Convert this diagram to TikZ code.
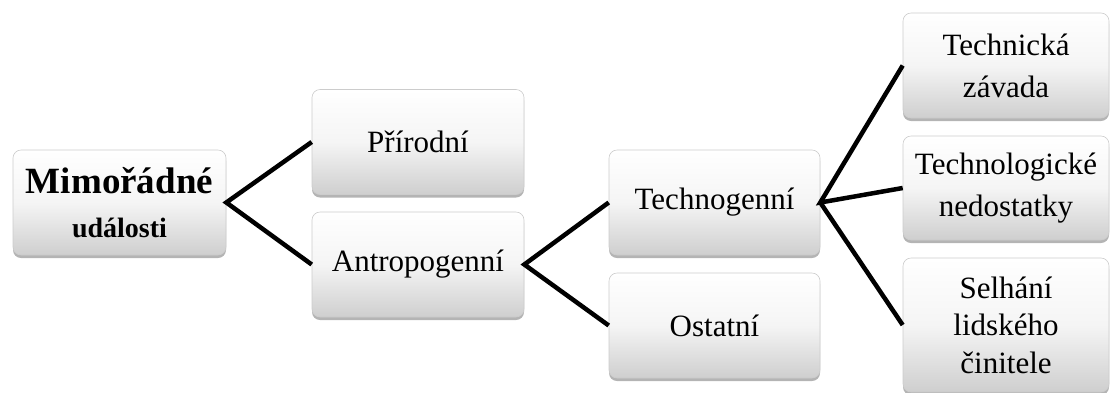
\documentclass[tikz,border=0pt]{standalone}
\usepackage{fontspec}
\setmainfont{Liberation Serif}
\usetikzlibrary{shadows}
\tikzset{
  box/.style={rectangle, rounded corners=8pt, draw=gray!40, line width=0.6pt,
    top color=white, bottom color=gray!38, middle color=gray!8,
    drop shadow={shadow xshift=0pt, shadow yshift=-3pt, opacity=0.45, fill=gray!70!black},
    minimum width=212pt, minimum height=105pt, align=center, inner sep=0pt,
    font=\fontsize{31}{42}\selectfont},
  conn/.style={line width=4.5pt, black}
}
\begin{document}
\begin{tikzpicture}[x=1pt,y=-1pt]
\useasboundingbox (0,0) rectangle (1111,392);
\node[box, minimum width=213pt] (root) at (119.5,202.5)
  {{\fontsize{37}{48}\selectfont\bfseries Mimořádné}\\[2pt]{\fontsize{28}{34}\selectfont\bfseries události}};
\node[box] (prir) at (418,142) {Přírodní};
\node[box] (antr) at (418,264.5) {Antropogenní};
\node[box, minimum width=211pt] (techno) at (714.5,202.5) {Technogenní};
\node[box, minimum width=211pt] (ost) at (714.5,325.5) {Ostatní};
\node[box, minimum width=206pt] (tz) at (1006,65.5) {Technická\\závada};
\node[box, minimum width=206pt, minimum height=104pt] (tn) at (1006,188) {Technologické\\nedostatky};
\node[box, minimum width=206pt, minimum height=134pt, font=\fontsize{31}{37.5}\selectfont] (sel) at (1006,325) {Selhání\\lidského\\činitele};
\draw[conn] (prir.west) -- (root.east) -- (antr.west);
\draw[conn] (techno.west) -- (antr.east) -- (ost.west);
\draw[conn] (tz.west) -- (techno.east) -- (tn.west);
\draw[conn] (techno.east) -- (sel.west);
\end{tikzpicture}
\end{document}
